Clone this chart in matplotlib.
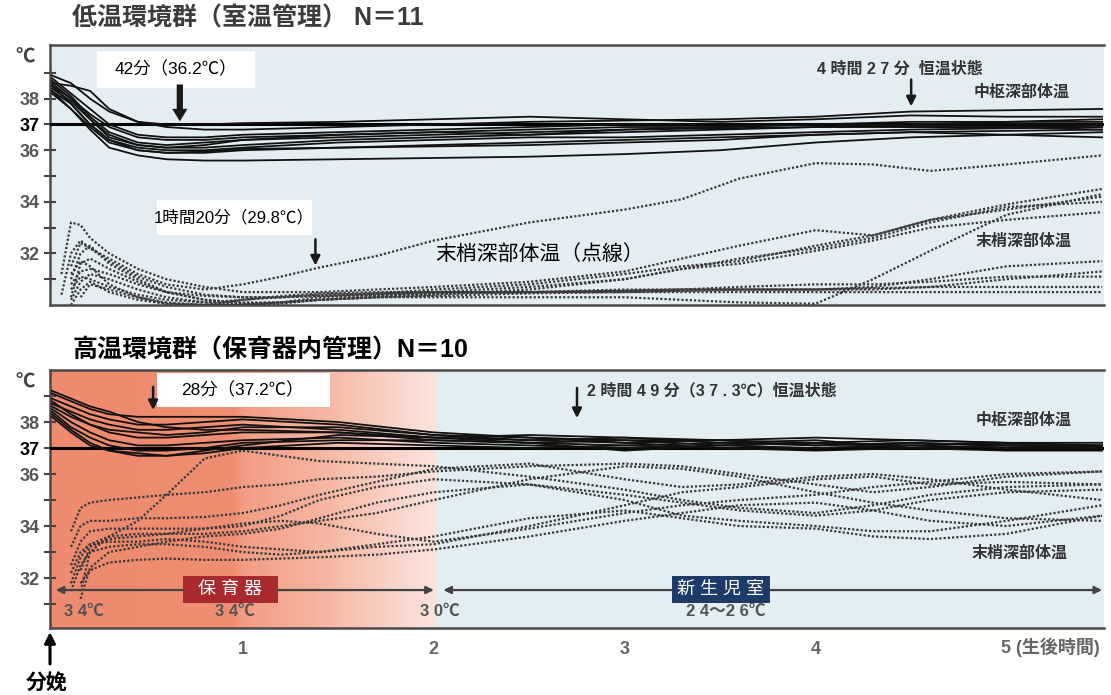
import numpy as np
import matplotlib
matplotlib.use("Agg")
import matplotlib.pyplot as plt
from matplotlib.colors import LinearSegmentedColormap
from matplotlib.patches import Rectangle

plt.rcParams['font.family'] = ['Liberation Sans', 'Noto Sans CJK JP', 'DejaVu Sans']

# time grids (hours after birth)
core_hours = [0, 0.1, 0.2, 0.3, 0.45, 0.6, 0.8, 1.0, 1.5, 2.0, 2.5, 3.0, 3.5, 4.0, 4.5, 5.0, 5.5]
peri_hours = [0.05, 0.1, 0.15, 0.2, 0.3, 0.45, 0.6, 0.8, 1.0, 1.2, 1.4, 1.7, 2.0, 2.5,
              3.0, 3.3, 3.6, 4.0, 4.3, 4.6, 5.0, 5.5]
nan = np.nan

# low-temperature group (room), core temperature, N=11
low_core = [
    [38.9, 38.6, 38.0, 37.5, 37.1, 36.9, 36.8, 36.8, 36.9, 37.0, 37.1, 37.15, 37.2, 37.3, 37.5, 37.55, 37.6],
    [38.6, 38.5, 38.3, 37.6, 37.1, 37.0, 37.0, 37.05, 37.1, 37.2, 37.3, 37.2, 37.1, 37.2, 37.35, 37.3, 37.3],
    [38.8, 38.2, 37.6, 37.0, 36.6, 36.5, 36.5, 36.6, 36.7, 36.8, 36.9, 37.0, 37.0, 37.0, 37.1, 37.1, 37.2],
    [38.5, 38.0, 37.4, 36.9, 36.5, 36.4, 36.4, 36.5, 36.6, 36.7, 36.8, 36.9, 36.9, 37.0, 37.0, 37.1, 37.1],
    [38.7, 38.1, 37.3, 36.7, 36.3, 36.2, 36.3, 36.4, 36.5, 36.6, 36.7, 36.8, 36.85, 36.9, 36.95, 37.0, 37.0],
    [38.4, 37.9, 37.2, 36.6, 36.2, 36.1, 36.1, 36.2, 36.4, 36.5, 36.6, 36.7, 36.8, 36.9, 36.9, 36.9, 36.95],
    [38.3, 37.8, 37.0, 36.4, 36.1, 36.0, 36.0, 36.1, 36.3, 36.4, 36.5, 36.5, 36.6, 36.7, 36.8, 36.85, 36.9],
    [38.6, 38.0, 37.2, 36.5, 36.2, 36.1, 36.2, 36.4, 36.6, 36.7, 36.6, 36.8, 36.9, 37.0, 36.9, 36.9, 36.8],
    [38.2, 37.6, 36.9, 36.3, 36.0, 35.9, 35.9, 36.0, 36.1, 36.2, 36.3, 36.4, 36.5, 36.6, 36.7, 36.6, 36.5],
    [38.5, 37.8, 37.0, 36.4, 36.0, 35.9, 35.95, 36.05, 36.1, 36.15, 36.2, 36.3, 36.4, 36.6, 36.7, 36.75, 36.8],
    [38.3, 37.6, 36.8, 36.1, 35.8, 35.65, 35.6, 35.6, 35.65, 35.7, 35.75, 35.85, 36.0, 36.3, 36.5, 36.6, 36.7],
]

# low-temperature group, peripheral temperature (dotted)
low_peri = [
    [nan, 31.5, 32.4, 32.2, 31.8, 31.2, 30.8, 30.6, 30.8, 31.1, 31.45, 31.9, 32.5, 33.2, 33.7, 34.1, 34.9, 35.5, 35.45, 35.2, 35.45, 35.8],
    [31.2, 33.2, 33.1, 32.6, 32.0, 31.4, 31.0, 30.7, 30.5, 30.5, 30.5, 30.6, 30.7, 30.9, 31.3, 31.8, 32.3, 32.9, 32.7, 33.3, 33.9, 34.5],
    [30.4, 32.0, 32.5, 32.2, 31.7, 31.1, 30.7, 30.4, 30.3, 30.3, 30.35, 30.45, 30.6, 30.8, 31.2, 31.5, 31.7, 32.3, 32.7, 33.3, 33.7, 34.2],
    [nan, 31.0, 32.0, 32.3, 31.6, 31.0, 30.5, 30.2, 30.1, 30.1, 30.2, 30.35, 30.5, 30.7, 31.0, 31.4, 31.6, 32.1, 32.5, 33.0, 33.3, 33.6],
    [nan, 30.3, 31.6, 31.8, 31.4, 30.9, 30.5, 30.2, 30.05, 30.05, 30.2, 30.3, 30.4, 30.6, 31.0, 31.4, 31.8, 32.2, 32.6, 33.2, 33.8, 34.0],
    [nan, 31.2, 31.7, 31.5, 30.8, 30.3, 30.05, 30.0, 30.0, 30.1, 30.2, 30.3, 30.3, 30.3, 30.3, 30.2, 30.1, 30.05, 31.0, 32.1, 33.5, 34.3],
    [nan, 30.8, 31.3, 31.4, 31.2, 30.8, 30.5, 30.35, 30.3, 30.3, 30.35, 30.4, 30.45, 30.5, 30.55, 30.6, 30.6, 30.6, 30.7, 31.0, 31.5, 31.7],
    [nan, 30.2, 30.9, 31.2, 31.0, 30.6, 30.3, 30.1, 30.05, 30.1, 30.3, 30.4, 30.45, 30.5, 30.5, 30.55, 30.6, 30.6, 30.6, 30.7, 31.0, 31.3],
    [nan, 30.6, 31.1, 31.0, 30.7, 30.4, 30.2, 30.1, 30.2, 30.35, 30.45, 30.5, 30.5, 30.5, 30.6, 30.6, 30.7, 30.8, 30.8, 30.9, 31.1, 31.1],
    [nan, nan, 30.3, 30.8, 30.6, 30.3, 30.1, 30.0, 30.2, 30.3, 30.4, 30.45, 30.5, 30.5, 30.55, 30.6, 30.6, 30.6, 30.65, 30.7, 30.7, 30.7],
    [nan, 30.0, 30.6, 30.9, 30.5, 30.2, 30.05, 30.0, 30.0, 30.1, 30.2, 30.3, 30.35, 30.45, 30.5, 30.5, 30.5, 30.5, 30.5, 30.5, 30.5, 30.5],
]

# high-temperature group (incubator), core temperature, N=10
high_core = [
    [39.1, 38.8, 38.5, 38.3, 38.2, 38.2, 38.2, 38.2, 38.0, 37.6, 37.4, 37.3, 37.3, 37.2, 37.3, 37.2, 37.2],
    [38.9, 38.6, 38.3, 38.1, 37.9, 37.9, 38.0, 38.1, 37.9, 37.5, 37.3, 37.4, 37.2, 37.1, 37.2, 37.1, 37.1],
    [38.7, 38.4, 38.1, 37.9, 37.7, 37.7, 37.8, 37.9, 37.7, 37.4, 37.2, 37.3, 37.1, 37.2, 37.1, 37.2, 37.0],
    [38.6, 38.2, 37.9, 37.7, 37.6, 37.5, 37.6, 37.8, 37.8, 37.5, 37.4, 37.2, 37.3, 37.1, 37.2, 37.1, 37.1],
    [38.8, 38.3, 37.9, 37.6, 37.4, 37.4, 37.5, 37.6, 37.6, 37.3, 37.2, 37.1, 37.2, 37.3, 37.0, 37.1, 37.0],
    [38.5, 38.0, 37.6, 37.3, 37.1, 37.1, 37.2, 37.3, 37.4, 37.2, 37.1, 37.0, 37.1, 37.0, 37.1, 37.0, 37.0],
    [38.4, 37.8, 37.4, 37.1, 36.9, 36.9, 37.0, 37.2, 37.3, 37.3, 37.2, 36.9, 37.1, 37.2, 37.0, 37.1, 37.05],
    [38.3, 37.7, 37.2, 36.9, 36.8, 36.7, 36.8, 37.0, 37.2, 37.1, 37.0, 37.1, 37.0, 37.0, 37.1, 37.0, 37.0],
    [38.2, 37.6, 37.1, 36.9, 36.7, 36.7, 36.9, 37.1, 37.5, 37.4, 37.5, 37.4, 37.3, 37.4, 37.3, 37.2, 37.1],
    [39.2, 38.9, 38.6, 38.4, 38.0, 37.8, 37.7, 37.7, 37.6, 37.4, 37.3, 37.2, 37.0, 36.9, 37.0, 36.9, 36.9],
]

# high-temperature group, peripheral temperature (dotted)
high_peri = [
    [nan, 33.8, 34.7, 34.9, 35.0, 35.1, 35.2, 35.3, 35.5, 35.6, 35.8, 35.9, 36.1, 36.3, 36.4, 36.3, 36.0, 35.6, 35.3, 35.5, 35.9, 36.1],
    [nan, nan, 31.5, 33.0, 33.6, 34.2, 35.2, 36.6, 36.9, 36.7, 36.5, 36.4, 36.3, 35.9, 35.4, 35.0, 34.7, 34.5, 34.8, 35.2, 35.5, 35.6],
    [nan, 33.2, 34.0, 34.2, 34.2, 34.3, 34.3, 34.35, 34.5, 34.8, 35.2, 35.7, 36.2, 36.4, 35.8, 35.5, 35.6, 35.9, 36.0, 35.8, 35.4, 35.0],
    [nan, 32.5, 33.4, 33.8, 33.9, 33.9, 33.9, 33.9, 34.0, 34.4, 35.0, 35.5, 35.8, 35.6, 35.2, 34.9, 34.6, 34.4, 34.6, 35.0, 35.3, 35.4],
    [nan, 31.8, 32.8, 33.3, 33.6, 33.7, 33.7, 33.7, 33.8, 34.0, 34.2, 34.5, 35.0, 35.8, 36.3, 36.2, 35.9, 35.3, 34.9, 34.6, 34.3, 34.2],
    [nan, nan, 32.3, 33.2, 33.5, 33.6, 33.7, 33.9, 34.1, 34.2, 34.1, 33.7, 33.4, 33.9, 34.5, 34.8, 35.0, 35.2, 35.5, 35.7, 36.0, 36.1],
    [nan, nan, 31.2, 32.4, 33.0, 33.2, 33.4, 33.6, 33.7, 33.9, 34.3, 34.9, 35.3, 35.6, 35.0, 34.4, 34.2, 34.0, 33.8, 33.8, 34.2, 34.8],
    [nan, nan, 31.8, 32.3, 32.6, 32.7, 32.75, 32.7, 32.7, 32.75, 32.8, 32.9, 33.1, 33.6, 34.2, 34.5, 34.8, 34.9, 34.6, 34.2, 34.0, 34.4],
    [nan, 32.2, 33.0, 33.3, 33.4, 33.4, 33.5, 33.4, 33.2, 33.1, 33.0, 33.2, 33.3, 34.0, 34.8, 35.3, 35.5, 35.8, 35.9, 35.6, 35.7, 35.6],
    [nan, 31.5, 32.5, 33.0, 33.2, 33.3, 33.3, 33.2, 33.0, 32.9, 33.0, 33.3, 33.6, 34.3, 34.6, 34.3, 34.0, 33.9, 33.6, 33.5, 33.7, 34.4],
]

y_major = [38, 37, 36, 34, 32]
y_minor = [39, 35, 33, 31]
x_labels = ['1', '2', '3', '4']

W, H = 1111, 695
fig = plt.figure(figsize=(W / 100, H / 100), dpi=100)
ax1 = fig.add_axes([50 / W, 1 - 305 / H, 1054 / W, 260 / H])
ax2 = fig.add_axes([50 / W, 1 - 628 / H, 1054 / W, 258 / H])

gray = '#555555'
note = dict(fontsize=11.5, color='#333333', weight='bold', zorder=6)


def style_axes(ax, ylim):
    ax.set_xlim(-0.01, 5.51)
    ax.set_ylim(*ylim)
    for s in ['top', 'bottom', 'left']:
        ax.spines[s].set_color('#4a4a4a')
        ax.spines[s].set_linewidth(1.8)
    ax.spines['right'].set_visible(False)
    ax.set_yticks(y_major)
    ax.set_yticks(y_minor, minor=True)
    ax.set_yticklabels([str(v) for v in y_major])
    ax.tick_params(axis='y', which='both', direction='inout', length=9, width=1.5,
                   color='#444444', pad=3)
    for lab in ax.get_yticklabels():
        lab.set_fontsize(13)
        lab.set_fontweight('bold')
        lab.set_color('black' if lab.get_text() == '37' else gray)
    ax.text(-0.024, 0.95, '℃', transform=ax.transAxes, ha='center', va='center',
            fontsize=14, color='#444444', weight='bold')
    ax.axhline(37, color='black', lw=2.2, zorder=3)


def draw_curves(ax, core, peri):
    for row in core:
        ax.plot(core_hours, row, color='#111111', lw=1.3, zorder=4)
    for row in peri:
        ax.plot(peri_hours, row, color='#3a3a3a', lw=1.6, ls=(0, (1, 0.9)), zorder=4)


def thin_arrow(ax, t, y_tip, y_tail):
    ax.annotate('', xy=(t, y_tip), xytext=(t, y_tail),
                arrowprops=dict(arrowstyle='-|>', lw=1.8, color='#1a1a1a', mutation_scale=14,
                                shrinkA=0, shrinkB=0), zorder=6)


# ---- top panel: low temperature group ----
ax1.set_facecolor('#e4eef2')
style_axes(ax1, (30.0, 40.08))
ax1.set_xticks([])
draw_curves(ax1, low_core, low_peri)

ax1.add_patch(Rectangle((0.236, 38.43), 0.827, 1.4, fc='white', ec='none', zorder=5))
ax1.text(0.65, 39.13, '42分（36.2℃）', ha='center', va='center', fontsize=12.5, zorder=6)
ax1.annotate('', xy=(0.67, 37.12), xytext=(0.67, 38.55),
             arrowprops=dict(arrowstyle='simple,head_width=1.1,head_length=0.9,tail_width=0.45',
                             fc='#1a1a1a', ec='none', shrinkA=0, shrinkB=0), zorder=6)

ax1.add_patch(Rectangle((0.55, 32.70), 0.811, 1.39, fc='white', ec='none', zorder=5))
ax1.text(0.955, 33.4, '1時間20分（29.8℃）', ha='center', va='center', fontsize=12, zorder=6)
thin_arrow(ax1, 1.38, 31.53, 32.55)

ax1.text(2.555, 31.96, '末梢深部体温（点線）', ha='center', va='center', fontsize=15, zorder=6)
ax1.text(4.44, 39.13, '4 時間 2 7 分  恒温状態', ha='center', va='center', **note)
thin_arrow(ax1, 4.5, 37.70, 38.74)
ax1.text(5.08, 38.24, '中枢深部体温', ha='center', va='center', **note)
ax1.text(5.09, 32.47, '末梢深部体温', ha='center', va='center', **note)

# ---- bottom panel: high temperature group ----
ylim2 = (30.08, 40.0)
ax2.set_facecolor('#e3eef3')
warm = LinearSegmentedColormap.from_list('warm', [
    (0.0, '#ee8a6d'), (0.47, '#ef8e72'), (0.5, '#f29d84'), (0.7, '#f5b5a1'),
    (0.86, '#f9cfc3'), (1.0, '#fbe4de')])
ax2.imshow(np.linspace(0, 1, 256)[None, :], extent=(-0.01, 2.02, ylim2[0], ylim2[1]),
           aspect='auto', cmap=warm, zorder=0)
style_axes(ax2, ylim2)
draw_curves(ax2, high_core, high_peri)

ax2.set_xticks([1, 2, 3, 4])
ax2.set_xticklabels(x_labels, fontsize=13, color='#666666', weight='bold')
ax2.tick_params(axis='x', length=0, pad=9)
ax2.text(4.97, -0.075, '5 (生後時間)', transform=ax2.get_xaxis_transform(), ha='left',
         va='center', fontsize=13, color='#666666', weight='bold')

ax2.add_patch(Rectangle((0.55, 38.58), 0.905, 1.3, fc='white', ec='none', zorder=5))
ax2.text(1.0, 39.23, '28分（37.2℃）', ha='center', va='center', fontsize=12.5, zorder=6)
thin_arrow(ax2, 0.53, 38.46, 39.35)
thin_arrow(ax2, 2.75, 38.15, 39.31)
ax2.text(2.8, 39.2, '2 時間 4 9 分（3 7 . 3℃）恒温状態', ha='left', va='center', **note)
ax2.text(5.09, 38.08, '中枢深部体温', ha='center', va='center', **note)
ax2.text(5.07, 32.96, '末梢深部体温', ha='center', va='center', **note)

# environment arrows
for x0, x1 in [(0.02, 2.0), (2.05, 5.5)]:
    ax2.annotate('', xy=(x1, 31.54), xytext=(x0, 31.54),
                 arrowprops=dict(arrowstyle='<|-|>', lw=1.6, color='#444444', mutation_scale=11,
                                 shrinkA=0, shrinkB=0), zorder=5)
ax2.add_patch(Rectangle((0.686, 31.04), 0.497, 1.04, fc='#a82a2e', ec='none', zorder=6))
ax2.text(0.935, 31.56, '保 育 器', ha='center', va='center', fontsize=13, color='white', zorder=7)
ax2.add_patch(Rectangle((3.246, 31.04), 0.513, 1.04, fc='#1d3a68', ec='none', zorder=6))
ax2.text(3.5, 31.56, '新 生 児 室', ha='center', va='center', fontsize=13, color='white', zorder=7)
for t, lab in [(0.17, '3 4℃'), (0.96, '3 4℃'), (2.03, '3 0℃'), (3.53, '2 4～2 6℃')]:
    ax2.text(t, 30.72, lab, ha='center', va='center', fontsize=12, color='#555555',
             weight='bold', zorder=6)

# titles
fig.text(72 / W, 1 - 19 / H, '低温環境群（室温管理） N＝11', ha='left', va='center',
         fontsize=18, weight='bold', color='#3c3c3c')
fig.text(72 / W, 1 - 350 / H, '高温環境群（保育器内管理）N＝10', ha='left', va='center',
         fontsize=18, weight='bold', color='black')

# birth marker
ax2.annotate('', xy=(50 / W, 1 - 632 / H), xytext=(50 / W, 1 - 664 / H),
             xycoords='figure fraction', textcoords='figure fraction',
             arrowprops=dict(arrowstyle='-|>', lw=2.2, color='black', mutation_scale=16,
                             shrinkA=0, shrinkB=0))
fig.text(47 / W, 1 - 683 / H, '分娩', ha='center', va='center', fontsize=15, weight='bold')

fig.savefig('out.png', dpi=100, facecolor='white')
